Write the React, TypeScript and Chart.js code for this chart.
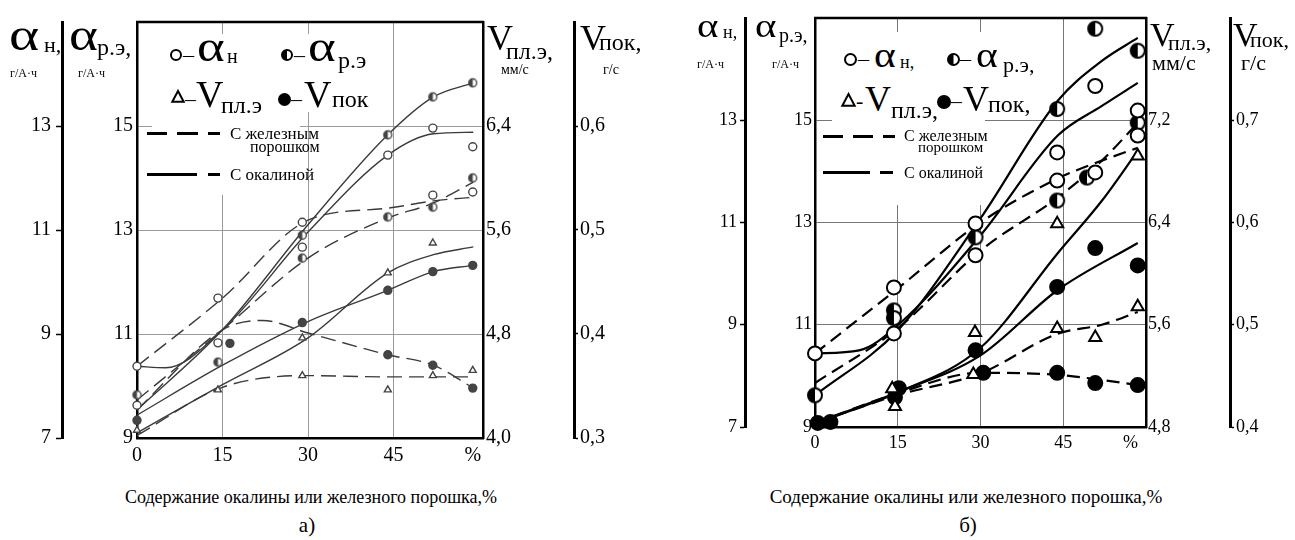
import React, { useEffect, useRef } from 'react';
import { Chart, registerables } from 'chart.js';
Chart.register(...registerables);

const SERIF = '"Liberation Serif", "Times New Roman", serif';

type Pair = [number, number];

// ---------------- shared ----------------
const X_TICK_LABELS = ['0', '15', '30', '45', '%'];
const X_GRID = [15, 30, 45];
const ALPHA_GRID = [11, 13, 15];

// ---------------- panel а ----------------
const A_X_MAX = 60.7;
const A_X_TICKS = [0, 15, 30, 45, 58.9];
const A_AN_TICKS = [7, 9, 11, 13, 15];
const A_AN_LABELS = ['7', '9', '11', '13', ''];
const A_AR_TICKS = [9, 11, 13, 15, 17];
const A_AR_LABELS = ['9', '11', '13', '15', ''];
const A_VPL_TICKS = [4.0, 4.8, 5.6, 6.4, 7.2];
const A_VPL_LABELS = ['4,0', '4,8', '5,6', '6,4', ''];
const A_VPOK_TICKS = [0.3, 0.4, 0.5, 0.6, 0.7];
const A_VPOK_LABELS = ['0,3', '0,4', '0,5', '0,6', ''];

const A_AN_PTS: Pair[] = [[0, 8.38], [0, 7.63], [14.2, 9.69], [14.2, 8.83], [29, 11.15], [29, 10.67], [44, 12.44], [51.9, 12.96], [51.9, 11.67], [58.9, 12.6], [58.9, 11.73]];
const A_AR_PTS: Pair[] = [[0, 9.83], [14.2, 10.46], [29, 12.9], [29, 12.46], [44, 14.83], [44, 13.25], [51.9, 15.56], [51.9, 13.44], [58.9, 15.83], [58.9, 14.0]];
const A_VPL_PTS: Pair[] = [[0, 4.06], [14.2, 4.37], [29, 4.77], [29, 4.48], [44, 5.27], [44, 4.37], [51.9, 5.5], [51.9, 4.48], [58.9, 4.52]];
const A_VPOK_PTS: Pair[] = [[0, 0.317], [16.3, 0.391], [29, 0.411], [44, 0.442], [44, 0.38], [51.9, 0.46], [51.9, 0.37], [58.9, 0.466], [58.9, 0.348]];

const A_AN_SOLID: Pair[] = [[0, 8.38], [5, 8.35], [15, 9.08], [30, 10.96], [44, 12.44], [52, 12.85], [59, 12.88]];
const A_AN_DASHED: Pair[] = [[0, 8.38], [15, 9.69], [30, 11.19], [44, 11.42], [52, 11.56], [59, 11.63]];
const A_AR_SOLID: Pair[] = [[0, 9.54], [15, 11.08], [30, 13.1], [44, 14.83], [52, 15.56], [59, 15.83]];
const A_AR_DASHED: Pair[] = [[0, 9.73], [15, 11.08], [30, 12.46], [44, 13.23], [52, 13.52], [59, 13.92]];
const A_VPL_SOLID: Pair[] = [[0, 4.04], [15, 4.41], [30, 4.77], [44, 5.27], [52, 5.41], [59, 5.47]];
const A_VPL_DASHED: Pair[] = [[0, 4.02], [15, 4.39], [30, 4.48], [44, 4.47], [52, 4.47], [59, 4.47]];
const A_VPOK_SOLID: Pair[] = [[0, 0.322], [15, 0.37], [30, 0.412], [44, 0.442], [52, 0.46], [59, 0.466]];
const A_VPOK_DASHED: Pair[] = [[0, 0.327], [15, 0.404], [22, 0.413], [30, 0.401], [44, 0.38], [52, 0.37], [59, 0.348]];

// ---------------- panel б ----------------
const B_X_MAX = 60;
const B_X_TICKS = [0, 15, 30, 45, 57.2];
const B_AN_TICKS = [7, 9, 11, 13, 15];
const B_AN_LABELS = ['7', '9', '11', '13', ''];
const B_AR_TICKS = [9, 11, 13, 15, 17];
const B_AR_LABELS = ['9', '11', '13', '15', ''];
const B_VPL_TICKS = [4.8, 5.6, 6.4, 7.2, 8.0];
const B_VPL_LABELS = ['4,8', '5,6', '6,4', '7,2', ''];
const B_VPOK_TICKS = [0.4, 0.5, 0.6, 0.7, 0.8];
const B_VPOK_LABELS = ['0,4', '0,5', '0,6', '0,7', ''];

const B_AN_PTS: Pair[] = [[0, 8.44], [14.3, 9.73], [14.3, 8.83], [29.1, 10.98], [29.1, 10.36], [43.9, 12.37], [43.9, 11.82], [50.8, 13.67], [50.8, 11.98], [58.5, 13.19], [58.5, 12.7]];
const B_AR_PTS: Pair[] = [[0, 9.62], [14.3, 11.28], [14.3, 11.13], [29.1, 12.71], [43.9, 15.22], [43.9, 13.43], [50.8, 16.79], [49.3, 13.88], [58.5, 16.36], [58.5, 14.95]];
const B_VPL_PTS: Pair[] = [[-1.8, 4.83], [14.0, 5.1], [14.5, 4.96], [29.0, 5.54], [28.7, 5.21], [43.9, 6.39], [43.9, 5.57], [50.8, 5.5], [58.5, 6.92], [58.5, 5.74]];
const B_VPOK_PTS: Pair[] = [[0.5, 0.404], [2.8, 0.405], [15.2, 0.438], [14.5, 0.429], [29.1, 0.475], [30.5, 0.453], [43.9, 0.537], [43.9, 0.453], [50.8, 0.575], [50.8, 0.443], [58.5, 0.558], [58.5, 0.441]];

const B_AN_SOLID: Pair[] = [[0, 8.44], [8, 8.5], [15, 8.99], [30, 10.75], [44, 12.7], [52, 13.28], [58.5, 13.73]];
const B_AN_DASHED: Pair[] = [[0, 8.44], [15, 9.71], [30, 11.0], [44, 11.86], [52, 12.21], [58.5, 12.46]];
const B_AR_SOLID: Pair[] = [[0, 9.62], [15, 10.89], [30, 13.08], [44, 15.38], [52, 16.16], [58.5, 16.61]];
const B_AR_DASHED: Pair[] = [[0, 9.86], [15, 10.93], [30, 12.45], [44, 13.49], [52, 14.21], [58.5, 14.95]];
const B_VPL_SOLID: Pair[] = [[0, 4.83], [15, 5.07], [30, 5.42], [44, 6.16], [52, 6.57], [58.5, 6.96]];
const B_VPL_DASHED: Pair[] = [[0, 4.83], [15, 5.05], [30, 5.22], [44, 5.53], [52, 5.6], [58.5, 5.7]];
const B_VPOK_SOLID: Pair[] = [[0, 0.404], [15, 0.434], [30, 0.47], [44, 0.534], [58.5, 0.58]];
const B_VPOK_DASHED: Pair[] = [[0, 0.404], [15, 0.433], [30, 0.453], [44, 0.451], [52, 0.446], [58.5, 0.441]];

// ---------------- helpers ----------------
const toXY = (d: Pair[]) => d.map(([x, y]) => ({ x, y }));
const near = (a: number, b: number) => Math.abs(a - b) < 1e-6;
const setTicks = (vals: number[]) => (s: any) => { s.ticks = vals.map((v) => ({ value: v })); };
const labelOf = (vals: number[], labels: string[]) => (v: any) => {
  const i = vals.findIndex((t) => near(t, Number(v)));
  return i >= 0 ? labels[i] : '';
};

function halfCircle(r: number, lw: number, color: string) {
  const c = document.createElement('canvas');
  const s = Math.ceil(2 * r + 2 * lw + 2);
  c.width = s; c.height = s;
  const g = c.getContext('2d')!;
  const m = s / 2;
  g.fillStyle = '#fff'; g.beginPath(); g.arc(m, m, r, 0, Math.PI * 2); g.fill();
  g.fillStyle = color; g.beginPath(); g.moveTo(m, m); g.arc(m, m, r, Math.PI / 2, (3 * Math.PI) / 2); g.closePath(); g.fill();
  g.strokeStyle = color; g.lineWidth = lw; g.beginPath(); g.arc(m, m, r, 0, Math.PI * 2); g.stroke();
  return c;
}

const framePlugin = {
  id: 'frame',
  beforeDatasetsDraw(chart: any, _a: any, opts: any) {
    const { ctx, chartArea } = chart;
    ctx.save();
    ctx.strokeStyle = '#000';
    ctx.lineWidth = opts.width || 2.5;
    ctx.beginPath();
    ctx.moveTo(chartArea.left - 1, chartArea.top);
    ctx.lineTo(chartArea.right + 1, chartArea.top);
    ctx.stroke();
    ctx.restore();
  },
};

interface Spec {
  padTop: number; xMax: number; xTicks: number[];
  anTicks: number[]; anLabels: string[]; arTicks: number[]; arLabels: string[];
  vplTicks: number[]; vplLabels: string[]; vpokTicks: number[]; vpokLabels: string[];
  widths: { yn: number; yr: number; yv: number; yp: number; x: number };
  font: number; xPad: number; gridColor: string; lineColor: string; lineWidth: number; dash: number[];
  markColor: string; markR: number; markW: number;
  pts: { an: Pair[]; ar: Pair[]; vpl: Pair[]; vpok: Pair[] };
  curves: { data: Pair[]; axis: string; dashed: boolean }[];
  padYn: number; padYr: number; padYv: number; padYp: number; tickYn: number; tickYp: number;
}

function buildConfig(sp: Spec): any {
  const font = { family: SERIF, size: sp.font };
  const transparent = 'rgba(0,0,0,0)';
  const half = halfCircle(sp.markR, sp.markW, sp.markColor);
  const lines = sp.curves.map((c) => ({
    data: toXY(c.data), yAxisID: c.axis, borderColor: sp.lineColor, borderWidth: sp.lineWidth,
    borderDash: c.dashed ? sp.dash : [], pointRadius: 0, fill: false, cubicInterpolationMode: 'monotone',
    order: 2, clip: false,
  }));
  const mk = (d: Pair[], axis: string, style: any, bg: string) => ({
    data: toXY(d), yAxisID: axis, showLine: false, pointStyle: style, pointRadius: sp.markR,
    pointBackgroundColor: bg, pointBorderColor: sp.markColor, pointBorderWidth: sp.markW, order: 1, clip: false,
  });
  const points = [
    mk(sp.pts.an, 'yn', 'circle', '#fff'),
    mk(sp.pts.ar, 'yr', half, '#fff'),
    mk(sp.pts.vpl, 'yv', 'triangle', '#fff'),
    mk(sp.pts.vpok, 'yp', 'circle', sp.markColor),
  ];
  return {
    type: 'line',
    data: { datasets: [...lines, ...points] },
    plugins: [framePlugin],
    options: {
      responsive: false, animation: false, devicePixelRatio: 1, events: [],
      layout: { padding: { top: sp.padTop, left: 0, right: 0, bottom: 0 } },
      plugins: { legend: { display: false }, tooltip: { enabled: false }, frame: { width: 2.5 } },
      scales: {
        x: {
          type: 'linear', min: 0, max: sp.xMax,
          afterBuildTicks: setTicks(sp.xTicks),
          afterFit: (s: any) => { s.height = sp.widths.x; },
          ticks: { callback: (_v: any, i: number) => X_TICK_LABELS[i], font, color: '#000', padding: sp.xPad, maxRotation: 0, autoSkip: false },
          grid: { color: (c: any) => (c.tick && X_GRID.some((g) => near(g, c.tick.value)) ? sp.gridColor : transparent), drawTicks: false, lineWidth: 1 },
          border: { display: true, color: '#000', width: 2.5 },
        },
        yr: {
          type: 'linear', position: 'left', weight: 0, min: sp.arTicks[0], max: sp.arTicks[sp.arTicks.length - 1],
          afterBuildTicks: setTicks(sp.arTicks),
          afterFit: (s: any) => { s.width = sp.widths.yr; },
          ticks: { callback: labelOf(sp.arTicks, sp.arLabels), font, color: '#000', padding: sp.padYr },
          grid: { color: (c: any) => (c.tick && ALPHA_GRID.some((g) => near(g, c.tick.value)) ? sp.gridColor : transparent), drawTicks: false, lineWidth: 1 },
          border: { display: true, color: '#000', width: 2.5 },
        },
        yn: {
          type: 'linear', position: 'left', weight: 1, min: sp.anTicks[0], max: sp.anTicks[sp.anTicks.length - 1],
          afterBuildTicks: setTicks(sp.anTicks),
          afterFit: (s: any) => { s.width = sp.widths.yn; },
          ticks: { callback: labelOf(sp.anTicks, sp.anLabels), font, color: '#000', padding: sp.padYn },
          grid: { drawOnChartArea: false, drawTicks: true, tickLength: sp.tickYn, tickWidth: 1.5,
            tickColor: (c: any) => (c.index === sp.anTicks.length - 1 ? transparent : '#000') },
          border: { display: true, color: '#000', width: 3 },
        },
        yv: {
          type: 'linear', position: 'right', weight: 0, min: sp.vplTicks[0], max: sp.vplTicks[sp.vplTicks.length - 1],
          afterBuildTicks: setTicks(sp.vplTicks),
          afterFit: (s: any) => { s.width = sp.widths.yv; },
          ticks: { callback: labelOf(sp.vplTicks, sp.vplLabels), font, color: '#000', padding: sp.padYv },
          grid: { drawOnChartArea: false, drawTicks: false },
          border: { display: true, color: '#000', width: 2.5 },
        },
        yp: {
          type: 'linear', position: 'right', weight: 1, min: sp.vpokTicks[0], max: sp.vpokTicks[sp.vpokTicks.length - 1],
          afterBuildTicks: setTicks(sp.vpokTicks),
          afterFit: (s: any) => { s.width = sp.widths.yp; },
          ticks: { callback: labelOf(sp.vpokTicks, sp.vpokLabels), font, color: '#000', padding: sp.padYp },
          grid: { drawOnChartArea: false, drawTicks: true, tickLength: sp.tickYp, tickWidth: 1.5,
            tickColor: (c: any) => (c.index === sp.vpokTicks.length - 1 ? transparent : '#000') },
          border: { display: true, color: '#000', width: 3 },
        },
      },
    },
  };
}

const SPEC_A = (): Spec => ({
  padTop: 22, xMax: A_X_MAX, xTicks: A_X_TICKS,
  anTicks: A_AN_TICKS, anLabels: A_AN_LABELS, arTicks: A_AR_TICKS, arLabels: A_AR_LABELS,
  vplTicks: A_VPL_TICKS, vplLabels: A_VPL_LABELS, vpokTicks: A_VPOK_TICKS, vpokLabels: A_VPOK_LABELS,
  widths: { yn: 62, yr: 75, yv: 91, yp: 60, x: 34 },
  font: 20, xPad: 6, gridColor: '#9a9a9a', lineColor: '#3a3a3a', lineWidth: 1.4, dash: [15, 7],
  markColor: '#444', markR: 4, markW: 1.4,
  pts: { an: A_AN_PTS, ar: A_AR_PTS, vpl: A_VPL_PTS, vpok: A_VPOK_PTS },
  curves: [
    { data: A_AN_SOLID, axis: 'yn', dashed: false },
    { data: A_AN_DASHED, axis: 'yn', dashed: true },
    { data: A_AR_SOLID, axis: 'yr', dashed: false },
    { data: A_AR_DASHED, axis: 'yr', dashed: true },
    { data: A_VPL_SOLID, axis: 'yv', dashed: false },
    { data: A_VPL_DASHED, axis: 'yv', dashed: true },
    { data: A_VPOK_SOLID, axis: 'yp', dashed: false },
    { data: A_VPOK_DASHED, axis: 'yp', dashed: true },
  ],
  padYn: 5, padYr: 4, padYv: 3, padYp: 2, tickYn: 6, tickYp: 4,
});

const SPEC_B = (): Spec => ({
  padTop: 18, xMax: B_X_MAX, xTicks: B_X_TICKS,
  anTicks: B_AN_TICKS, anLabels: B_AN_LABELS, arTicks: B_AR_TICKS, arLabels: B_AR_LABELS,
  vplTicks: B_VPL_TICKS, vplLabels: B_VPL_LABELS, vpokTicks: B_VPOK_TICKS, vpokLabels: B_VPOK_LABELS,
  widths: { yn: 65, yr: 70, yv: 84, yp: 60, x: 34 },
  font: 18, xPad: 5, gridColor: '#777', lineColor: '#000', lineWidth: 2.2, dash: [13, 7],
  markColor: '#000', markR: 7, markW: 2,
  pts: { an: B_AN_PTS, ar: B_AR_PTS, vpl: B_VPL_PTS, vpok: B_VPOK_PTS },
  curves: [
    { data: B_AN_SOLID, axis: 'yn', dashed: false },
    { data: B_AN_DASHED, axis: 'yn', dashed: true },
    { data: B_AR_SOLID, axis: 'yr', dashed: false },
    { data: B_AR_DASHED, axis: 'yr', dashed: true },
    { data: B_VPL_SOLID, axis: 'yv', dashed: false },
    { data: B_VPL_DASHED, axis: 'yv', dashed: true },
    { data: B_VPOK_SOLID, axis: 'yp', dashed: false },
    { data: B_VPOK_DASHED, axis: 'yp', dashed: true },
  ],
  padYn: 3, padYr: 3, padYv: 2, padYp: 2, tickYn: 5, tickYp: 4,
});

function PanelChart({ spec, left, width, height }: { spec: () => Spec; left: number; width: number; height: number }) {
  const ref = useRef<HTMLCanvasElement>(null);
  useEffect(() => {
    const chart = new Chart(ref.current as HTMLCanvasElement, buildConfig(spec()));
    return () => chart.destroy();
  }, []);
  return <canvas ref={ref} width={width} height={height} style={{ position: 'absolute', left, top: 0, width, height }} />;
}

// ---------------- text / legend helpers ----------------
function Txt({ x, y, size, children, center = false, sx = 1 }: any) {
  return (
    <div style={{
      position: 'absolute', left: x, top: y - 0.84 * size, fontFamily: SERIF, fontSize: size, lineHeight: 1,
      whiteSpace: 'nowrap', color: '#000', transform: `${center ? 'translateX(-50%) ' : ''}scaleX(${sx})`,
      transformOrigin: center ? 'center' : 'left',
    }}>{children}</div>
  );
}

function Mk({ kind, x, y, r, sw = 1.8 }: any) {
  const s = r * 2 + 4;
  return (
    <svg style={{ position: 'absolute', left: x - s / 2, top: y - s / 2 }} width={s} height={s} viewBox={`${-s / 2} ${-s / 2} ${s} ${s}`}>
      {kind === 'o' && <circle r={r} fill="#fff" stroke="#000" strokeWidth={sw} />}
      {kind === 'f' && <circle r={r} fill="#000" />}
      {kind === 'h' && (<g><circle r={r} fill="#fff" stroke="#000" strokeWidth={sw} /><path d={`M0 ${-r} A ${r} ${r} 0 0 0 0 ${r} Z`} fill="#000" /></g>)}
      {kind === 't' && <polygon points={`0,${-r} ${r * 0.95},${r * 0.8} ${-r * 0.95},${r * 0.8}`} fill="#fff" stroke="#000" strokeWidth={sw} />}
    </svg>
  );
}

const Bar = ({ x1, x2, y, h = 3 }: any) => (
  <div style={{ position: 'absolute', left: x1, top: y - h / 2, width: x2 - x1, height: h, background: '#000' }} />
);
const White = ({ x1, x2, y1, y2 }: any) => (
  <div style={{ position: 'absolute', left: x1, top: y1, width: x2 - x1, height: y2 - y1, background: '#fff' }} />
);

const CAPTION = 'Содержание окалины или железного порошка,%';

export default function App() {
  return (
    <div style={{ position: 'absolute', left: 0, top: 0, width: 1295, height: 540, background: '#fff', overflow: 'hidden' }}>
      <PanelChart spec={SPEC_A} left={0} width={634} height={472} />
      <PanelChart spec={SPEC_B} left={680} width={610} height={461} />

      {/* ---------- panel а: legend ---------- */}
      <White x1={152} x2={372} y1={34} y2={112} />
      <White x1={152} x2={300} y1={112} y2={195} />
      <Mk kind="o" x={176} y={55} r={5} sw={2} />
      <Txt x={183} y={62} size={22}>–</Txt>
      <Txt x={197} y={62} size={44} sx={1.2}>α</Txt>
      <Txt x={227} y={63} size={20}>н</Txt>
      <Mk kind="h" x={287} y={55} r={5} sw={2} />
      <Txt x={294} y={62} size={22}>–</Txt>
      <Txt x={308} y={62} size={44} sx={1.2}>α</Txt>
      <Txt x={338} y={68} size={24}>р.э</Txt>
      <Mk kind="t" x={178} y={97} r={6} sw={2} />
      <Txt x={185} y={106} size={22}>–</Txt>
      <Txt x={196} y={107} size={38}>V</Txt>
      <Txt x={221} y={113} size={24}>пл.э</Txt>
      <Mk kind="f" x={284} y={99} r={6.5} />
      <Txt x={291} y={106} size={22}>–</Txt>
      <Txt x={304} y={107} size={38}>V</Txt>
      <Txt x={332} y={107} size={24}>пок</Txt>
      <Bar x1={147} x2={167} y={133} />
      <Bar x1={177} x2={198} y={133} />
      <Bar x1={208} x2={220} y={133} />
      <Txt x={230} y={139} size={17}>С железным</Txt>
      <Txt x={250} y={152} size={16}>порошком</Txt>
      <Bar x1={147} x2={197} y={174} />
      <Bar x1={208} x2={220} y={174} />
      <Txt x={230} y={180} size={17}>С окалиной</Txt>

      {/* ---------- panel а: axis titles ---------- */}
      <Txt x={9} y={51} size={46} sx={1.25}>α</Txt>
      <Txt x={44} y={52} size={22}>н,</Txt>
      <Txt x={10} y={77} size={12}>г/А·ч</Txt>
      <Txt x={69} y={51} size={46} sx={1.2}>α</Txt>
      <Txt x={97} y={55} size={24}>р.э,</Txt>
      <Txt x={78} y={77} size={12}>г/А·ч</Txt>
      <Txt x={487} y={50} size={36}>V</Txt>
      <Txt x={506} y={59} size={24}>пл.э,</Txt>
      <Txt x={501} y={75} size={14}>мм/с</Txt>
      <Txt x={580} y={50} size={36}>V</Txt>
      <Txt x={599} y={50} size={24}>пок,</Txt>
      <Txt x={603} y={75} size={14}>г/с</Txt>
      <Txt x={311} y={503} size={18} center>{CAPTION}</Txt>
      <Txt x={307} y={533} size={21} center>а)</Txt>

      {/* ---------- panel б: legend ---------- */}
      <White x1={832} x2={1040} y1={32} y2={112} />
      <White x1={832} x2={985} y1={112} y2={205} />
      <Mk kind="o" x={850} y={59} r={5.5} sw={2} />
      <Txt x={858} y={66} size={22}>–</Txt>
      <Txt x={874} y={67} size={36} sx={1.15}>α</Txt>
      <Txt x={900} y={68} size={18}>н,</Txt>
      <Mk kind="h" x={953} y={59} r={5.5} sw={2} />
      <Txt x={960} y={66} size={22}>–</Txt>
      <Txt x={976} y={67} size={36} sx={1.15}>α</Txt>
      <Txt x={1003} y={72} size={22}>р.э,</Txt>
      <Mk kind="t" x={848} y={100} r={6.5} sw={2} />
      <Txt x={856} y={108} size={22}>-</Txt>
      <Txt x={865} y={111} size={36}>V</Txt>
      <Txt x={891} y={118} size={24}>пл.э,</Txt>
      <Mk kind="f" x={944} y={102} r={7} />
      <Txt x={951} y={108} size={22}>–</Txt>
      <Txt x={963} y={111} size={36}>V</Txt>
      <Txt x={988} y={112} size={24}>пок,</Txt>
      <Bar x1={823} x2={843} y={136} />
      <Bar x1={853} x2={873} y={136} />
      <Bar x1={883} x2={895} y={136} />
      <Txt x={904} y={141} size={16}>С железным</Txt>
      <Txt x={918} y={153} size={15}>порошком</Txt>
      <Bar x1={823} x2={870} y={172} />
      <Bar x1={880} x2={893} y={172} />
      <Txt x={904} y={178} size={16}>С окалиной</Txt>

      {/* ---------- panel б: axis titles ---------- */}
      <Txt x={697} y={38} size={34} sx={1.2}>α</Txt>
      <Txt x={723} y={38} size={18}>н,</Txt>
      <Txt x={697} y={68} size={12}>г/А·ч</Txt>
      <Txt x={755} y={38} size={34} sx={1.2}>α</Txt>
      <Txt x={779} y={42} size={20}>р.э,</Txt>
      <Txt x={772} y={68} size={12}>г/А·ч</Txt>
      <Txt x={1150} y={47} size={34}>V</Txt>
      <Txt x={1168} y={50} size={22}>пл.э,</Txt>
      <Txt x={1152} y={70} size={22}>мм/с</Txt>
      <Txt x={1233} y={47} size={34}>V</Txt>
      <Txt x={1250} y={47} size={22}>пок,</Txt>
      <Txt x={1241} y={70} size={22}>г/с</Txt>
      <Txt x={966} y={503} size={19} center>{CAPTION}</Txt>
      <Txt x={968} y={533} size={21} center>б)</Txt>
    </div>
  );
}
